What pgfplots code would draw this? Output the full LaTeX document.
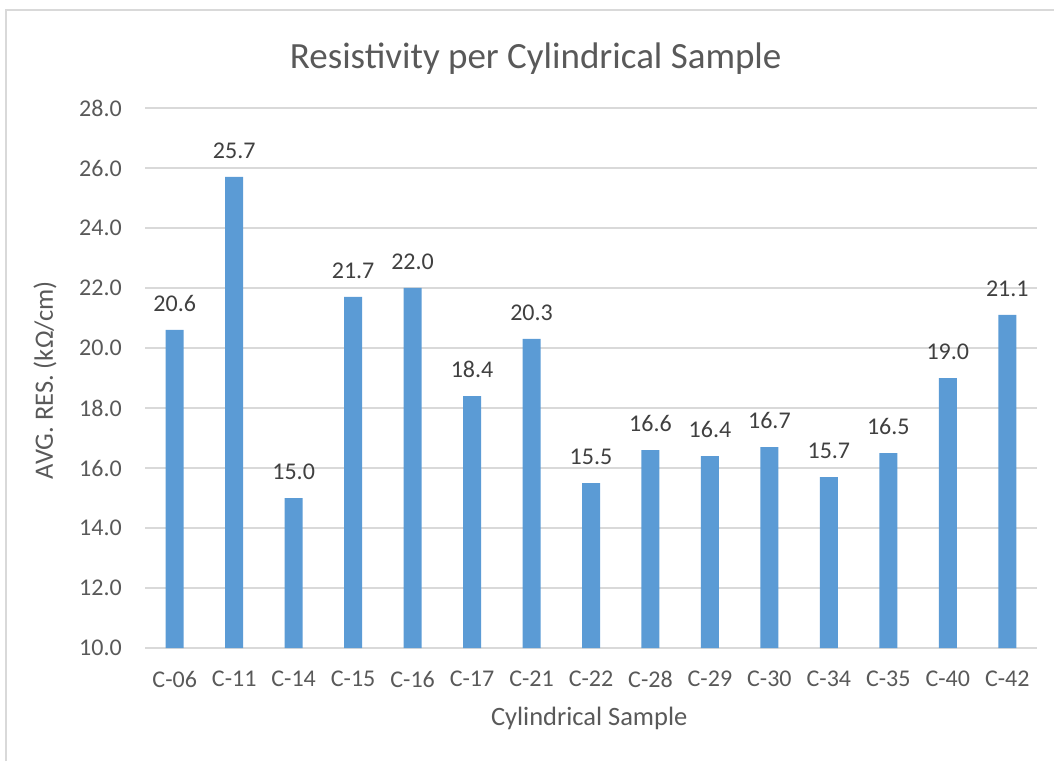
\documentclass[border=0pt]{standalone}
\usepackage{pgfplots}
\pgfplotsset{compat=1.18}
\usepackage{fontspec}
\setmainfont{Carlito}
\definecolor{barblue}{HTML}{5B9BD5}
\definecolor{gridgray}{HTML}{D9D9D9}
\definecolor{ticktext}{HTML}{595959}
\definecolor{labeltext}{HTML}{404040}
\begin{document}
\begin{tikzpicture}[x=1pt,y=1pt]
\path[use as bounding box] (0,0) rectangle (1054,761);
\draw[gridgray, line width=1.5pt] (6,0) -- (6,751) -- (1054,751);
\begin{axis}[
  at={(145pt,113pt)}, anchor=south west,
  scale only axis, width=892pt, height=540pt,
  ybar, bar width=18pt,
  xmin=-0.5, xmax=14.5,
  ymin=10, ymax=28, ytick distance=2,
  xtick=data,
  xticklabels={C-06,C-11,C-14,C-15,C-16,C-17,C-21,C-22,C-28,C-29,C-30,C-34,C-35,C-40,C-42},
  major tick length=0pt,
  axis line style={draw=none},
  ymajorgrids, grid style={gridgray, line width=1.5pt},
  /pgf/number format/assume math mode=true,
  yticklabel style={/pgf/number format/fixed, /pgf/number format/fixed zerofill, /pgf/number format/precision=1,
    font=\fontsize{24}{28}\selectfont, text=ticktext, inner sep=0pt, anchor=east, xshift=-23pt},
  xticklabel style={font=\fontsize{24}{28}\selectfont, text=ticktext, inner sep=0pt, anchor=north, yshift=-23pt},
  nodes near coords,
  nodes near coords style={/pgf/number format/fixed, /pgf/number format/fixed zerofill, /pgf/number format/precision=1,
    font=\fontsize{24}{28}\selectfont, text=labeltext, inner sep=0pt, anchor=south, yshift=18pt},
  title={Resistivity per Cylindrical Sample},
  title style={at={(rel axis cs:0.438,1.081)}, anchor=center, font=\fontsize{37}{44}\selectfont, text=ticktext, inner sep=0pt},
  xlabel={Cylindrical Sample},
  xlabel style={at={(rel axis cs:0.498,-0.130)}, anchor=center, font=\fontsize{26.5}{30}\selectfont, text=ticktext, inner sep=0pt},
  ylabel={AVG. RES. (kΩ/cm)},
  ylabel style={at={(rel axis cs:-0.112,0.496)}, anchor=center, rotate=0, font=\fontsize{26.5}{30}\selectfont, text=ticktext, inner sep=0pt},
]
\addplot[fill=barblue, draw=none, bar shift=0pt] coordinates {
(0,20.6) (1,25.7) (2,15.0) (3,21.7) (4,22.0) (5,18.4) (6,20.3) (7,15.5)
(8,16.6) (9,16.4) (10,16.7) (11,15.7) (12,16.5) (13,19.0) (14,21.1)
};
\end{axis}
\end{tikzpicture}
\end{document}
